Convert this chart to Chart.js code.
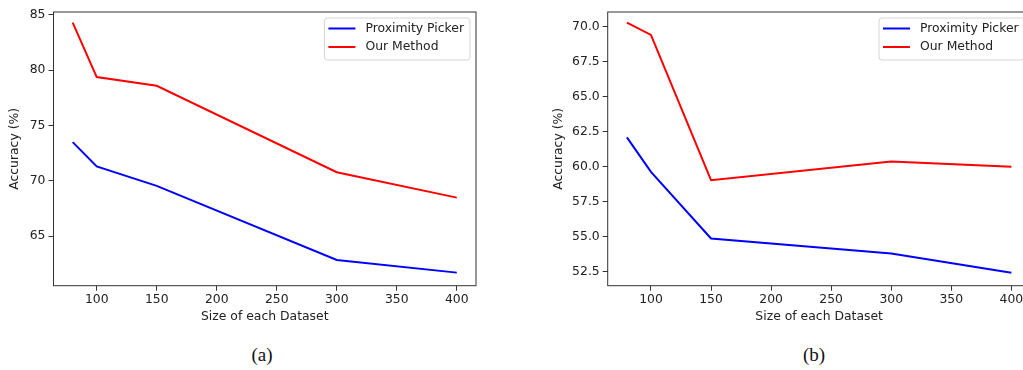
<!DOCTYPE html>
<html>
<head>
<meta charset="utf-8">
<script src="https://cdn.jsdelivr.net/npm/chart.js@4/dist/chart.umd.min.js"></script>
<style>
  html, body { margin: 0; padding: 0; background: #fff; overflow: hidden; }
  body { width: 1023px; height: 370px; position: relative; }
  canvas { position: absolute; top: 0; }
  #chartA { left: 0px; }
  #chartB { left: 546px; }
  .caption {
    position: absolute; top: 344px; width: 60px; margin-left: -30px;
    text-align: center; font-family: "Liberation Serif", serif; font-size: 19px; color: #111;
  }
</style>
</head>
<body>
<canvas id="chartA" width="490" height="328"></canvas>
<canvas id="chartB" width="494" height="328"></canvas>
<div class="caption" style="left:262px">(a)</div>
<div class="caption" style="left:814px">(b)</div>
<script>
// dataset sizes on the x axis
const sizes = [80, 100, 150, 300, 400];
const xTicks = [100, 150, 200, 250, 300, 350, 400];

// panel (a)
const pickerA = [73.5, 71.3, 69.55, 62.86, 61.72];
const oursA = [84.28, 79.37, 78.58, 70.78, 68.49];
const yTicksA = [65, 70, 75, 80, 85];

// panel (b)
const pickerB = [62.1, 59.64, 54.89, 53.82, 52.45];
const oursB = [70.29, 69.41, 59.05, 60.38, 60.0];
const yTicksB = [52.5, 55.0, 57.5, 60.0, 62.5, 65.0, 67.5, 70.0];

const FONT = 'DejaVu Sans';
const FONT_SIZE = 12.4;
const AXIS_COLOR = '#333';
const TEXT_COLOR = '#222';

// spines on all four sides plus a matplotlib-style legend in the upper right
const framePlugin = {
  id: 'frame',
  afterDraw(chart) {
    const { ctx, chartArea: a } = chart;
    ctx.save();
    ctx.strokeStyle = AXIS_COLOR;
    ctx.lineWidth = 1;
    ctx.strokeRect(a.left, a.top, a.right - a.left, a.bottom - a.top);

    ctx.font = `${FONT_SIZE}px "${FONT}"`;
    const labels = chart.data.datasets.map(d => d.label);
    const textW = Math.max(...labels.map(l => ctx.measureText(l).width));
    const w = 41 + textW + 6;
    const h = 42;
    const x = a.right - 6 - w;
    const y = a.top + 6;
    ctx.beginPath();
    ctx.roundRect(x, y, w, h, 3);
    ctx.fillStyle = 'rgba(255,255,255,0.8)';
    ctx.fill();
    ctx.strokeStyle = '#d6d6d6';
    ctx.stroke();
    chart.data.datasets.forEach((d, i) => {
      const ly = y + 10.5 + i * 18.5;
      ctx.strokeStyle = d.borderColor;
      ctx.lineWidth = 2;
      ctx.beginPath();
      ctx.moveTo(x + 4, ly);
      ctx.lineTo(x + 31, ly);
      ctx.stroke();
      ctx.fillStyle = TEXT_COLOR;
      ctx.textBaseline = 'middle';
      ctx.fillText(d.label, x + 41, ly);
    });
    ctx.restore();
  }
};

function makeChart(id, picker, ours, yTicks, yMin, yMax, yWidth, padRight, fmt, titlePad) {
  const points = vals => sizes.map((s, i) => ({ x: s, y: vals[i] }));
  const font = { family: FONT, size: FONT_SIZE };
  return new Chart(document.getElementById(id), {
    type: 'line',
    data: {
      datasets: [
        { label: 'Proximity Picker', data: points(picker), borderColor: '#0000ff', borderWidth: 2 },
        { label: 'Our Method', data: points(ours), borderColor: '#ff0000', borderWidth: 2 }
      ]
    },
    options: {
      responsive: false,
      animation: false,
      devicePixelRatio: 1,
      layout: { padding: { top: 12, right: padRight, left: 0, bottom: 0 } },
      elements: { point: { radius: 0 }, line: { tension: 0 } },
      plugins: { legend: { display: false }, tooltip: { enabled: false } },
      scales: {
        x: {
          type: 'linear',
          min: 64,
          max: 416,
          afterBuildTicks: s => { s.ticks = xTicks.map(v => ({ value: v })); },
          afterFit: s => { s.height = 42.3; },
          border: { display: false },
          grid: { drawOnChartArea: false, drawTicks: true, tickLength: 5, color: AXIS_COLOR },
          ticks: { color: TEXT_COLOR, font, padding: 2, maxRotation: 0, autoSkip: false },
          title: { display: true, text: 'Size of each Dataset', color: TEXT_COLOR, font, padding: { top: 2, bottom: 4 } }
        },
        y: {
          min: yMin,
          max: yMax,
          afterBuildTicks: s => { s.ticks = yTicks.map(v => ({ value: v })); },
          afterFit: s => { s.width = yWidth; },
          border: { display: false },
          grid: { drawOnChartArea: false, drawTicks: true, tickLength: 5, color: AXIS_COLOR },
          ticks: { color: TEXT_COLOR, font, padding: 3, autoSkip: false, callback: fmt },
          title: { display: true, text: 'Accuracy (%)', color: TEXT_COLOR, font, padding: { top: titlePad, bottom: 4 } }
        }
      }
    },
    plugins: [framePlugin]
  });
}

makeChart('chartA', pickerA, oursA, yTicksA, 60.54, 85.24, 53.5, 14, v => String(v), 7);
makeChart('chartB', pickerB, oursB, yTicksB, 51.52, 71.05, 61.7, 9.4, v => v.toFixed(1), 5);
</script>
</body>
</html>
